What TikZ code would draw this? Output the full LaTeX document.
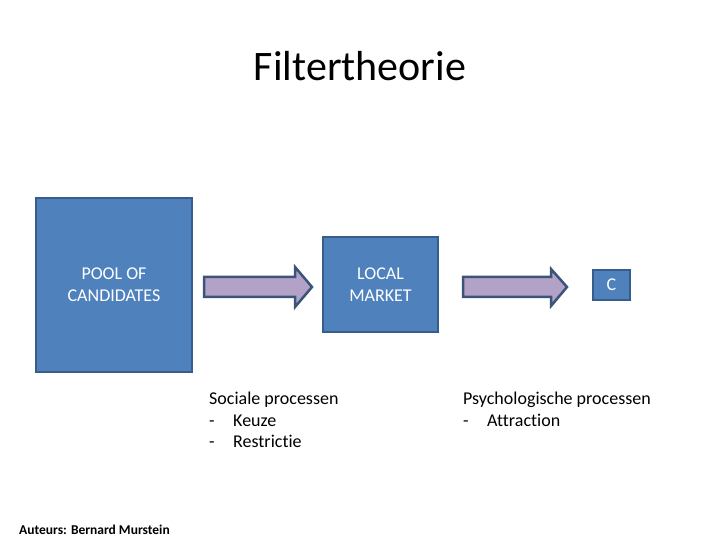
\documentclass[tikz,border=0pt]{standalone}
\usepackage{fontspec}
\setmainfont{Carlito}[Ligatures={NoCommon}]
\begin{document}
\begin{tikzpicture}[x=1pt,y=1pt,
  blockbox/.style={draw=boxline,fill=boxfill,line width=2.5pt,inner sep=0pt,text=white,font=\fontsize{18}{22}\selectfont,align=center},
  fatarrow/.style={draw=arrowline,fill=arrowfill,line width=2.5pt,line join=miter},
  label/.style={anchor=north west,inner sep=0pt,align=left,font=\fontsize{18}{21.5}\selectfont}
]
\definecolor{boxfill}{HTML}{4F81BD}
\definecolor{boxline}{HTML}{385D8A}
\definecolor{arrowfill}{HTML}{B3A2C7}
\definecolor{arrowline}{HTML}{3B5478}
\newcommand{\dashitem}[1]{\makebox[24pt][l]{-}#1}
\useasboundingbox (0,0) rectangle (720,540);
\node[anchor=center,inner sep=0pt,font=\fontsize{42}{44}\selectfont] (title) at (360,474) {Filtertheorie};
\node[blockbox,minimum width=156pt,minimum height=174pt] (pool) at (114,255) {POOL OF\\CANDIDATES};
\node[blockbox,minimum width=115pt,minimum height=95pt] (local) at (380.5,255.5) {LOCAL\\MARKET};
\node[blockbox,minimum width=37pt,minimum height=30pt] (c) at (611.5,255) {C};
% arrows
\draw[fatarrow] (204,263) -- (295,263) -- (295,273) -- (312,253) -- (295,233) -- (295,243) -- (204,243) -- cycle;
\draw[fatarrow] (463,263) -- (551,263) -- (551,271) -- (567,253) -- (551,234) -- (551,243) -- (463,243) -- cycle;
\node[label] (soc) at (209,148) {Sociale processen\\\dashitem{Keuze}\\\dashitem{Restrictie}};
\node[label] (psy) at (463,148) {Psychologische processen\\\dashitem{Attraction}};
\node[anchor=west,inner sep=0pt,font=\bfseries\fontsize{13.5}{15}\selectfont] (aut) at (19,10.5) {Auteurs: Bernard Murstein};
\end{tikzpicture}
\end{document}
